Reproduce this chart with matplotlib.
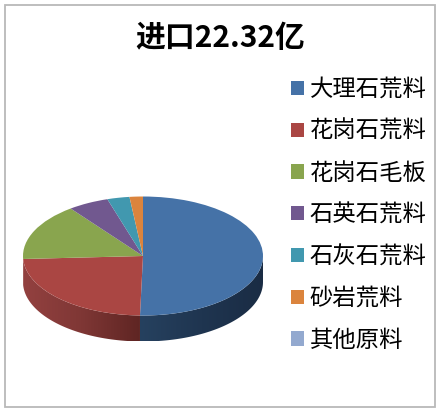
import matplotlib
matplotlib.use('Agg')
import matplotlib.pyplot as plt
from matplotlib.colors import LinearSegmentedColormap
from matplotlib.patches import Polygon, Rectangle
import numpy as np

plt.rcParams['font.family'] = ['Noto Sans CJK SC', 'DejaVu Sans']

title = '进口22.32亿'
labels = ['大理石荒料', '花岗石荒料', '花岗石毛板', '石英石荒料', '石灰石荒料', '砂岩荒料', '其他原料']
values = [50.4, 23.8, 15.5, 5.5, 3.0, 1.8, 0.0]
colors = ['#4572A7', '#AA4643', '#89A54E', '#71588F', '#4198AF', '#DB843D', '#93A9CF']
# side wall shading, left to right, for the two slices that reach the front
wall_colors = {0: ['#26415F', '#1F3550', '#1A2C44'], 1: ['#934140', '#7F3735', '#5F2523']}

W, H = 441, 419
fig = plt.figure(figsize=(W / 100, H / 100), dpi=100, facecolor='white')

# outer chart frame
fig.add_artist(Rectangle((5 / W, 1 - 407 / H), 430 / W, 402 / H, transform=fig.transFigure,
                         facecolor='white', edgecolor='#b9b9b9', linewidth=1.3, zorder=-1))

# pie axes: radius 1 = 120px wide, 59.5px tall, wall is 26px below
depth = 26 / 59.5
ax = fig.add_axes([23 / W, 1 - (315.5 + 26) / H, 240 / W, (119 + 26) / H])
ax.patch.set_alpha(0)
wedges, _ = ax.pie(values, colors=colors, startangle=90, counterclock=False,
                   wedgeprops={'linewidth': 0}, radius=1)

# walls, only the part of each slice under the front half of the ellipse
edges = 90 - 3.6 * np.cumsum([0] + values)
for i, shades in wall_colors.items():
    hi = np.radians(edges[i])
    lo = np.radians(edges[i + 1])
    t = np.linspace(min(hi, 0), lo, 120)
    t = t[(t <= 0) & (t >= -np.pi)]
    x = np.cos(t)
    y = np.sin(t)
    pts = np.column_stack([np.r_[x, x[::-1]], np.r_[y, y[::-1] - depth]])
    cmap = LinearSegmentedColormap.from_list('wall%d' % i, shades)
    img = ax.imshow(np.linspace(0, 1, 256).reshape(1, -1), cmap=cmap, aspect='auto',
                    extent=(x.min(), x.max(), -1 - depth, 0), zorder=0)
    clip = Polygon(pts, closed=True, transform=ax.transData, facecolor='none', edgecolor='none')
    ax.add_patch(clip)
    img.set_clip_path(clip)

ax.set_aspect('auto')
ax.set_xlim(-1, 1)
ax.set_ylim(-1 - depth, 1)
ax.axis('off')

fig.text(220 / W, 1 - 37.5 / H, title, fontsize=21.5, fontweight='bold', ha='center', va='center', color='black')

fig.legend(wedges, labels, loc='center left', bbox_to_anchor=(290.5 / W, 1 - 215 / H),
           fontsize=16.8, frameon=False, labelspacing=0.805, handlelength=0.57, handleheight=0.57,
           handletextpad=0.26, borderpad=0, borderaxespad=0, labelcolor='black')

fig.savefig('out.png', dpi=100)
